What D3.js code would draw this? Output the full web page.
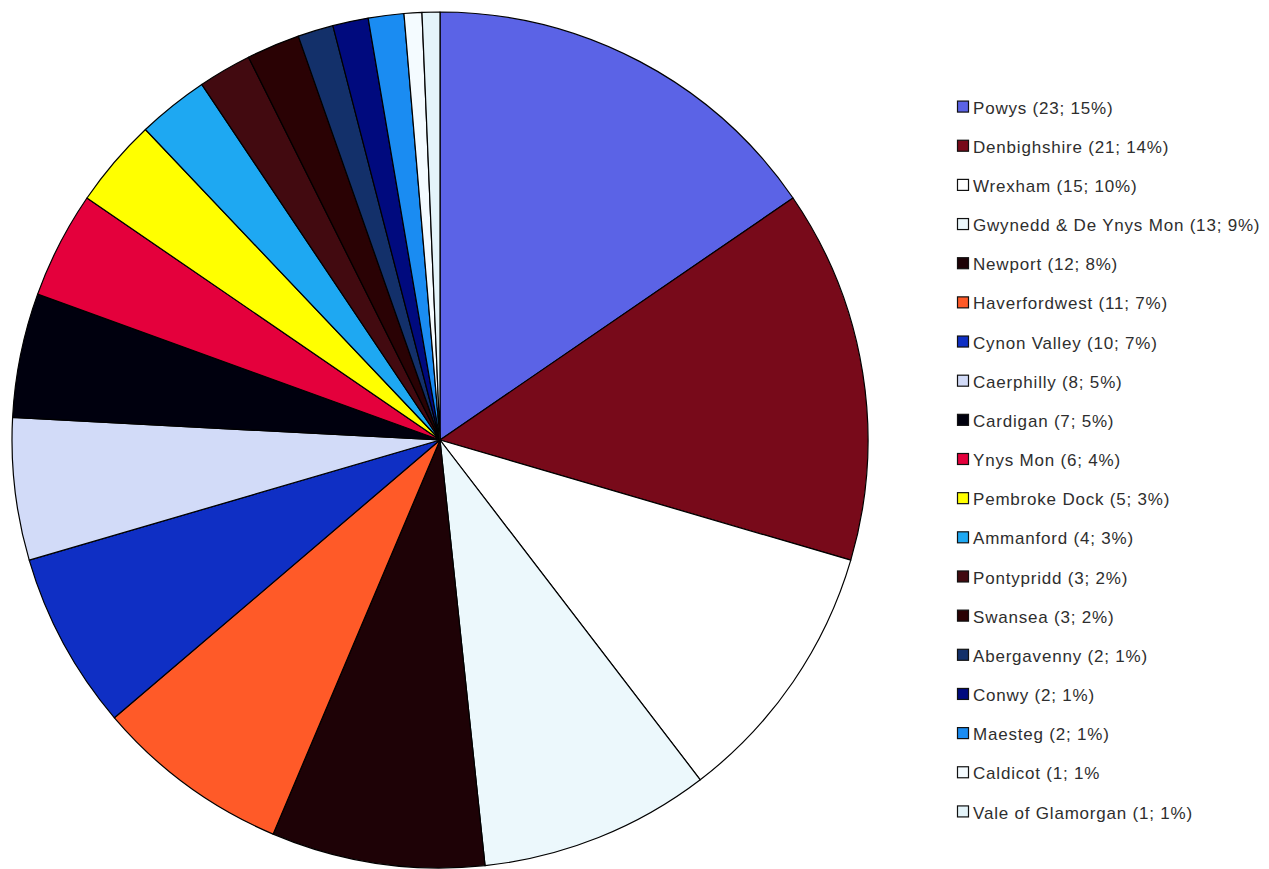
<!DOCTYPE html>
<html>
<head>
<meta charset="utf-8">
<script src="https://cdn.jsdelivr.net/npm/d3@7"></script>
<style>
  html, body { margin: 0; padding: 0; background: #fff; }
  svg { display: block; }
</style>
</head>
<body>
<svg id="chart" width="1269" height="869"></svg>
<script>
// Cases by locality
const areas = [
  "Powys", "Denbighshire", "Wrexham", "Gwynedd & De Ynys Mon", "Newport",
  "Haverfordwest", "Cynon Valley", "Caerphilly", "Cardigan", "Ynys Mon",
  "Pembroke Dock", "Ammanford", "Pontypridd", "Swansea", "Abergavenny",
  "Conwy", "Maesteg", "Caldicot", "Vale of Glamorgan"
];
const counts = [23, 21, 15, 13, 12, 11, 10, 8, 7, 6, 5, 4, 3, 3, 2, 2, 2, 1, 1];
const percents = [15, 14, 10, 9, 8, 7, 7, 5, 5, 4, 3, 3, 2, 2, 1, 1, 1, 1, 1];
const colours = [
  "#5b63e6", "#780a1a", "#ffffff", "#ecf8fc", "#1e0206",
  "#ff5a28", "#0f2fc4", "#d2dbf8", "#00000e", "#e4003c",
  "#ffff00", "#1ea8f2", "#420a10", "#2a0204", "#13306a",
  "#000a7e", "#1a8cf2", "#f4fbff", "#e4f4fa"
];
// Legend text (the Caldicot entry has no closing bracket)
const legendLabels = areas.map((a, i) =>
  a === "Caldicot" ? `${a} (${counts[i]}; ${percents[i]}%`
                   : `${a} (${counts[i]}; ${percents[i]}%)`);

const svg = d3.select("#chart");
const cx = 440, cy = 440, radius = 428;

const rows = areas.map((a, i) => ({ area: a, count: counts[i], colour: colours[i], label: legendLabels[i] }));

const pie = d3.pie().value(d => d.count).sort(null);
const arc = d3.arc().innerRadius(0).outerRadius(radius);

svg.append("g")
  .attr("transform", `translate(${cx},${cy})`)
  .selectAll("path")
  .data(pie(rows))
  .join("path")
  .attr("d", arc)
  .attr("fill", d => d.data.colour)
  .attr("stroke", "#000")
  .attr("stroke-width", 1.2)
  .attr("stroke-linejoin", "round");

// Legend
const legendY = d3.scaleBand()
  .domain(areas)
  .range([88, 832]);

const legend = svg.append("g");
const item = legend.selectAll("g")
  .data(rows)
  .join("g")
  .attr("transform", d => `translate(957,${legendY(d.area) + legendY.bandwidth() / 2})`);

item.append("rect")
  .attr("x", 0.5).attr("y", -6.5)
  .attr("width", 11).attr("height", 11)
  .attr("fill", d => d.colour)
  .attr("stroke", "#111")
  .attr("stroke-width", 1.2);

item.append("text")
  .attr("x", 16)
  .attr("y", 0)
  .attr("dy", "0.36em")
  .attr("font-family", "Liberation Sans, Arial, sans-serif")
  .attr("font-size", 17)
  .attr("letter-spacing", 0.8)
  .attr("fill", "#2e2e2e")
  .text(d => d.label);
</script>
</body>
</html>
